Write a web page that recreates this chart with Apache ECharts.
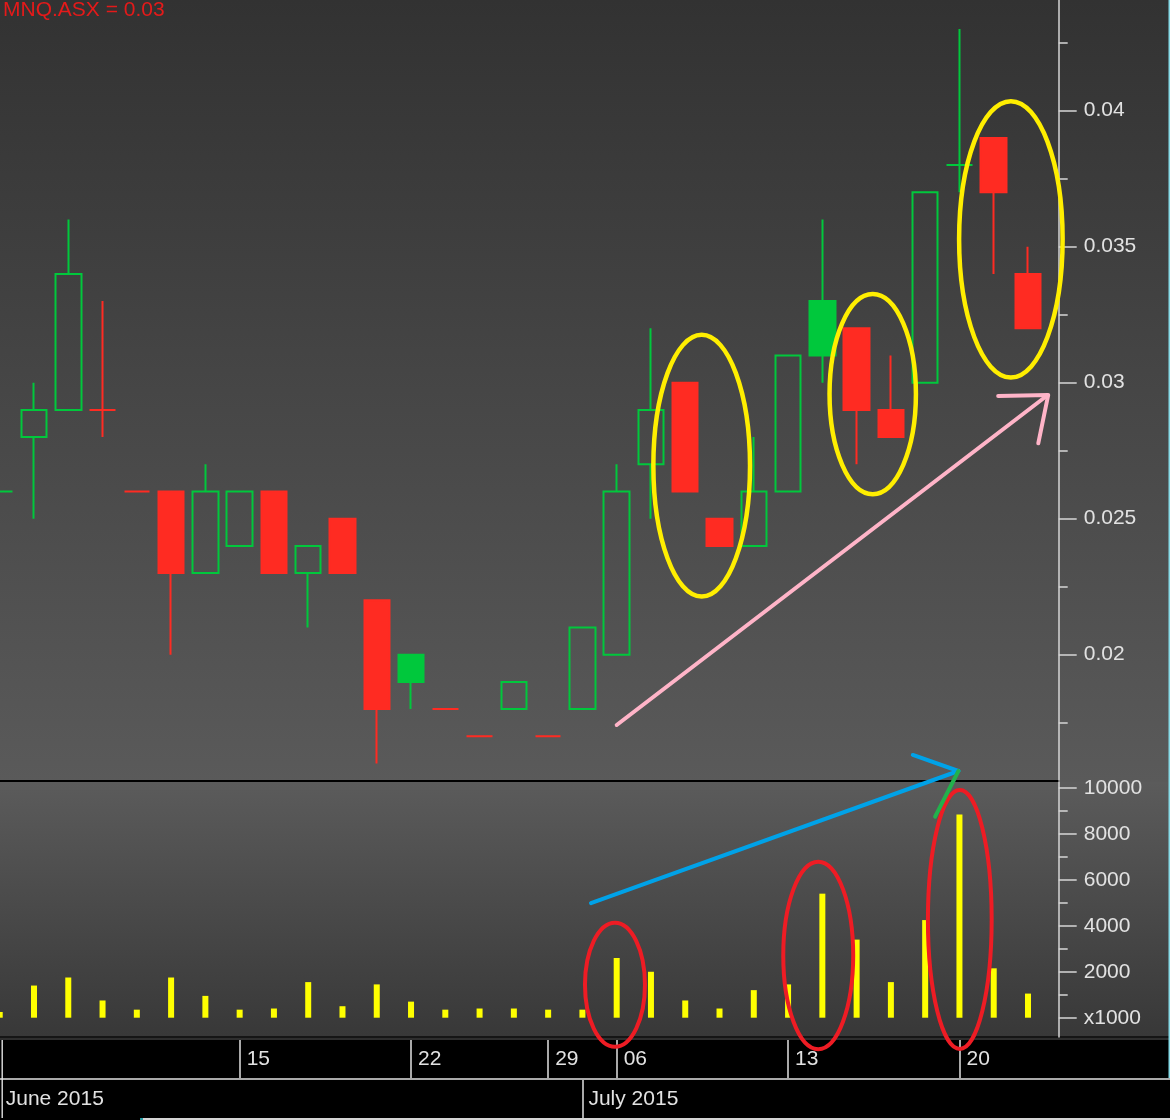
<!DOCTYPE html>
<html>
<head>
<meta charset="utf-8">
<script src="https://cdn.jsdelivr.net/npm/echarts@6/dist/echarts.min.js"></script>
<style>
html,body{margin:0;padding:0;background:#3a3a3a;overflow:hidden;width:1170px;height:1120px;position:relative;}
#c{position:absolute;left:-18px;top:0;width:1188px;height:1120px;}
</style>
</head>
<body>
<div id="c"></div>
<script>
// ---------------- data ----------------
const symbol = 'MNQ.ASX';
const dates = [
  '2015-06-03','2015-06-04','2015-06-05','2015-06-09','2015-06-10','2015-06-11','2015-06-12',
  '2015-06-15','2015-06-16','2015-06-17','2015-06-18','2015-06-19',
  '2015-06-22','2015-06-23','2015-06-24','2015-06-25',
  '2015-06-29','2015-07-01',
  '2015-07-06','2015-07-07','2015-07-08','2015-07-09','2015-07-10',
  '2015-07-13','2015-07-14','2015-07-15','2015-07-16','2015-07-17',
  '2015-07-20','2015-07-21','2015-07-22'
];
const openPrices  = [0.026,0.028,0.029,0.029,0.026,0.026,0.023,0.024,0.026,0.023,0.025,0.022,0.020,0.018,0.017,0.018,0.017,0.018,0.020,0.027,0.030,0.025,0.024,0.026,0.033,0.032,0.029,0.030,0.038,0.039,0.034];
const closePrices = [0.026,0.029,0.034,0.029,0.026,0.023,0.026,0.026,0.023,0.024,0.023,0.018,0.019,0.018,0.017,0.019,0.017,0.021,0.026,0.029,0.026,0.024,0.026,0.031,0.031,0.029,0.028,0.037,0.038,0.037,0.032];
const lowPrices   = [0.026,0.025,0.029,0.028,0.026,0.020,0.023,0.024,0.023,0.021,0.023,0.016,0.018,0.018,0.017,0.018,0.017,0.018,0.020,0.025,0.026,0.024,0.024,0.026,0.030,0.027,0.028,0.030,0.037,0.034,0.032];
const highPrices  = [0.026,0.030,0.036,0.033,0.026,0.026,0.027,0.026,0.026,0.024,0.025,0.022,0.020,0.018,0.017,0.019,0.017,0.021,0.027,0.032,0.030,0.025,0.028,0.031,0.036,0.032,0.031,0.037,0.043,0.039,0.035];
// volume in thousands (axis unit x1000)
const volumes = [250,1400,1750,750,350,1750,950,350,400,1550,500,1450,700,350,400,400,350,350,2600,2000,750,400,1200,1450,5400,3400,1550,4250,8850,2150,1050];

const priceTicks = [0.02,0.025,0.03,0.035,0.04];
const priceMinorTicks = [0.0175,0.0225,0.0275,0.0325,0.0375,0.0425];
const volumeTicks = [0,2000,4000,6000,8000,10000];
const volumeMinorTicks = [1000,3000,5000,7000,9000];
const monthNames = ['January','February','March','April','May','June','July','August','September','October','November','December'];

// annotations (in data units: category index / value)
const yellowEllipses = [ // price pane
  {i:20.48, v:0.02695, ri:1.41, rv:0.00481},
  {i:25.47, v:0.02958, ri:1.26, rv:0.00368},
  {i:29.50, v:0.03527, ri:1.51, rv:0.00508}
];
const redEllipses = [ // volume pane
  {i:17.95, v:1437, ri:0.875, rv:2699},
  {i:23.88, v:2712, ri:1.02, rv:4080},
  {i:28.01, v:4275, ri:0.93, rv:5638}
];
const pinkArrow = {shaft:[[18.0,0.017415],[30.55,0.02952]], head:[[29.13,0.02951],[30.59,0.02955],[30.30,0.027772]]};
const blueArrow = {shaft:[[17.25,4990],[27.97,10740]], head:[[26.64,11437],[27.97,10740]]};
const greenStroke = [[27.97,10740],[27.29,8751]];

// ---------------- layout ----------------
const SHIFT = 18;                 // the chart div starts 18px left of the page
const W = 1170 + SHIFT;
const SLOT = 34.276;
const FIRST_CENTER = -0.28 + SHIFT;
const GRID_LEFT = FIRST_CENTER - SLOT / 2;
const GRID_WIDTH = SLOT * dates.length;
const AXIS_X = 1058.7 + SHIFT;
const AXIS_OFFSET = AXIS_X - (GRID_LEFT + GRID_WIDTH);
const PRICE_TOP = 0, PRICE_H = 780;
const VOL_TOP = 782, VOL_H = 255;
const PRICE_MIN = 0.015393, PRICE_MAX = 0.04407;
const VOL_MIN = -840, VOL_MAX = 10261;

const GREEN = '#00c83c', RED = '#ff2b22';
const AXIS_COL = '#d6d6d6', LABEL_COL = '#e2e2e2';
const FONT = 'Arial, "Liberation Sans", sans-serif';

const candleData = dates.map((d, i) => {
  const o = openPrices[i], c = closePrices[i];
  const prev = i > 0 ? closePrices[i - 1] : o;
  const col = c >= prev ? GREEN : RED;
  const fill = c > o ? 'transparent' : col;
  return {
    value: [o, c, lowPrices[i], highPrices[i]],
    itemStyle: {color: fill, color0: fill, borderColor: col, borderColor0: col, borderColorDoji: col, borderWidth: 2}
  };
});

const dayOf = s => new Date(s + 'T00:00:00Z');
const isWeekStart = dates.map(s => dayOf(s).getUTCDay() === 1);
const isMonthStart = dates.map((s, i) => i > 0 && s.slice(5, 7) !== dates[i - 1].slice(5, 7));
const showMonthLabel = dates.map((s, i) => i === 0 || isMonthStart[i]);

const chart = echarts.init(document.getElementById('c'), null, {renderer: 'canvas'});

const lastClose = closePrices[closePrices.length - 1];

const hiddenCat = (gi) => ({
  type: 'category', gridIndex: gi, data: dates, boundaryGap: true, show: false
});
const dateGrid = (top) => ({left: FIRST_CENTER, width: SLOT * (dates.length - 1), top: top, height: 38, outerBoundsMode: 'none'});

const option = {
  animation: false,
  title: {
    text: symbol + ' = ' + lastClose.toFixed(2),
    left: 3 + SHIFT, top: 0, padding: 0,
    textStyle: {color: '#e41a1a', fontSize: 21, fontWeight: 'normal', fontFamily: FONT}
  },
  grid: [
    {left: GRID_LEFT, width: GRID_WIDTH, top: PRICE_TOP, height: PRICE_H, outerBoundsMode: 'none'},
    {left: GRID_LEFT, width: GRID_WIDTH, top: VOL_TOP, height: VOL_H, outerBoundsMode: 'none'},
    dateGrid(1040),
    dateGrid(1080)
  ],
  xAxis: [
    hiddenCat(0),
    hiddenCat(1),
    {
      type: 'category', gridIndex: 2, data: dates, boundaryGap: false, position: 'top',
      axisLine: {show: false},
      axisTick: {show: false},
      axisLabel: {show: true, inside: true, interval: (i) => isWeekStart[i],
        formatter: (v) => v.slice(8, 10), align: 'left', verticalAlign: 'middle',
        margin: 19, padding: [0, 0, 0, 7], color: LABEL_COL, fontSize: 21, fontFamily: FONT},
      splitLine: {show: true, interval: (i) => isWeekStart[i], lineStyle: {color: LABEL_COL, width: 1.5}}
    },
    {
      type: 'category', gridIndex: 3, data: dates, boundaryGap: false, position: 'top',
      axisLine: {show: false},
      axisTick: {show: false},
      axisLabel: {show: true, inside: true, interval: (i) => showMonthLabel[i],
        formatter: (v) => monthNames[+v.slice(5, 7) - 1] + ' ' + v.slice(0, 4),
        align: 'left', verticalAlign: 'middle',
        margin: 19, padding: [0, 0, 0, 6], color: LABEL_COL, fontSize: 21, fontFamily: FONT},
      splitLine: {show: true, interval: (i) => isMonthStart[i], lineStyle: {color: LABEL_COL, width: 1.5}}
    }
  ],
  yAxis: [
    { // price major
      type: 'value', gridIndex: 0, position: 'right', offset: AXIS_OFFSET,
      min: PRICE_MIN, max: PRICE_MAX, scale: true,
      axisLine: {show: true, lineStyle: {color: AXIS_COL, width: 1.5}},
      axisTick: {show: true, length: 18, customValues: priceTicks, lineStyle: {color: AXIS_COL, width: 1.5}},
      axisLabel: {show: true, customValues: priceTicks, margin: 25, color: LABEL_COL, fontSize: 21, fontFamily: FONT,
        formatter: (v) => String(+v.toFixed(4))},
      splitLine: {show: false}
    },
    { // price minor ticks
      type: 'value', gridIndex: 0, position: 'right', offset: AXIS_OFFSET,
      min: PRICE_MIN, max: PRICE_MAX, scale: true,
      axisLine: {show: false},
      axisTick: {show: true, length: 9, customValues: priceMinorTicks, lineStyle: {color: AXIS_COL, width: 1.5}},
      axisLabel: {show: false},
      splitLine: {show: false}
    },
    { // volume major
      type: 'value', gridIndex: 1, position: 'right', offset: AXIS_OFFSET,
      min: VOL_MIN, max: VOL_MAX,
      axisLine: {show: true, lineStyle: {color: AXIS_COL, width: 1.5}},
      axisTick: {show: true, length: 18, customValues: volumeTicks, lineStyle: {color: AXIS_COL, width: 1.5}},
      axisLabel: {show: true, customValues: volumeTicks, margin: 25, color: LABEL_COL, fontSize: 21, fontFamily: FONT,
        formatter: (v) => v === 0 ? 'x1000' : String(v)},
      splitLine: {show: false}
    },
    { // volume minor ticks
      type: 'value', gridIndex: 1, position: 'right', offset: AXIS_OFFSET,
      min: VOL_MIN, max: VOL_MAX,
      axisLine: {show: false},
      axisTick: {show: true, length: 9, customValues: volumeMinorTicks, lineStyle: {color: AXIS_COL, width: 1.5}},
      axisLabel: {show: false},
      splitLine: {show: false}
    },
    {type: 'value', gridIndex: 2, show: false},
    {type: 'value', gridIndex: 3, show: false}
  ],
  series: [
    {
      type: 'candlestick', xAxisIndex: 0, yAxisIndex: 0,
      barWidth: 26,
      itemStyle: {borderWidth: 2},
      data: candleData
    },
    {
      type: 'bar', xAxisIndex: 1, yAxisIndex: 2,
      barWidth: 6,
      itemStyle: {color: '#ffff00'},
      data: volumes
    }
  ]
};

chart.setOption(option);

// ---------- overlay graphics (background + hand-drawn annotations) ----------
function px(seriesIndex, i, v) {
  const a = chart.convertToPixel({seriesIndex: seriesIndex}, [0, v]);
  const b = chart.convertToPixel({seriesIndex: seriesIndex}, [1, v]);
  return [a[0] + (b[0] - a[0]) * i, a[1]];
}
function ellipseEl(si, e, color, lw) {
  const c = px(si, e.i, e.v);
  const r = px(si, e.i + e.ri, e.v + e.rv);
  return {type: 'ellipse', z: 100, silent: true,
    shape: {cx: c[0], cy: c[1], rx: Math.abs(r[0] - c[0]), ry: Math.abs(r[1] - c[1])},
    style: {fill: 'transparent', stroke: color, lineWidth: lw}};
}
function lineEl(si, pts, color, lw) {
  return {type: 'polyline', z: 100, silent: true,
    shape: {points: pts.map(p => px(si, p[0], p[1]))},
    style: {fill: null, stroke: color, lineWidth: lw, lineCap: 'round', lineJoin: 'round'}};
}

const grad = (a, b) => new echarts.graphic.LinearGradient(0, 0, 0, 1, [{offset: 0, color: a}, {offset: 1, color: b}]);
const rectEl = (x, y, w, h, fill, z) => ({type: 'rect', z: z, silent: true, shape: {x: x, y: y, width: w, height: h}, style: {fill: fill}});

const graphics = [
  rectEl(0, 0, W, 782, grad('#323232', '#5a5a5a'), -100),
  rectEl(0, 782, W, 254, grad('#5b5b5b', '#383838'), -100),
  rectEl(0, 780, AXIS_X, 2, '#000000', -90),
  rectEl(0, 1036, W, 2, '#151515', -90),
  rectEl(0, 1038, W, 2, '#2e2e2e', -90),
  rectEl(0, 1040, W, 80, '#000000', -90),
  rectEl(0, 1078.3, W, 1.5, LABEL_COL, 10),
  rectEl(1.5 + SHIFT, 1040, 1.4, 78, LABEL_COL, 10),
  rectEl(143 + SHIFT, 1118, 1027, 2, '#d4d4d4', 10),
  rectEl(140 + SHIFT, 1118, 3, 2, '#2aa0a8', 10),
  rectEl(1168.5 + SHIFT, 0, 1.5, 1078, '#86dbe8', 10)
];
yellowEllipses.forEach(e => graphics.push(ellipseEl(0, e, '#ffee00', 4.5)));
redEllipses.forEach(e => graphics.push(ellipseEl(1, e, '#ee1c24', 4)));
graphics.push(lineEl(0, pinkArrow.shaft, '#ffb4c8', 4));
graphics.push(lineEl(0, pinkArrow.head, '#ffb4c8', 4));
graphics.push(lineEl(1, blueArrow.shaft, '#00a2e8', 4));
graphics.push(lineEl(1, blueArrow.head, '#00a2e8', 4));
graphics.push(lineEl(1, greenStroke, '#22b14c', 4));

chart.setOption({graphic: graphics});
</script>
</body>
</html>
